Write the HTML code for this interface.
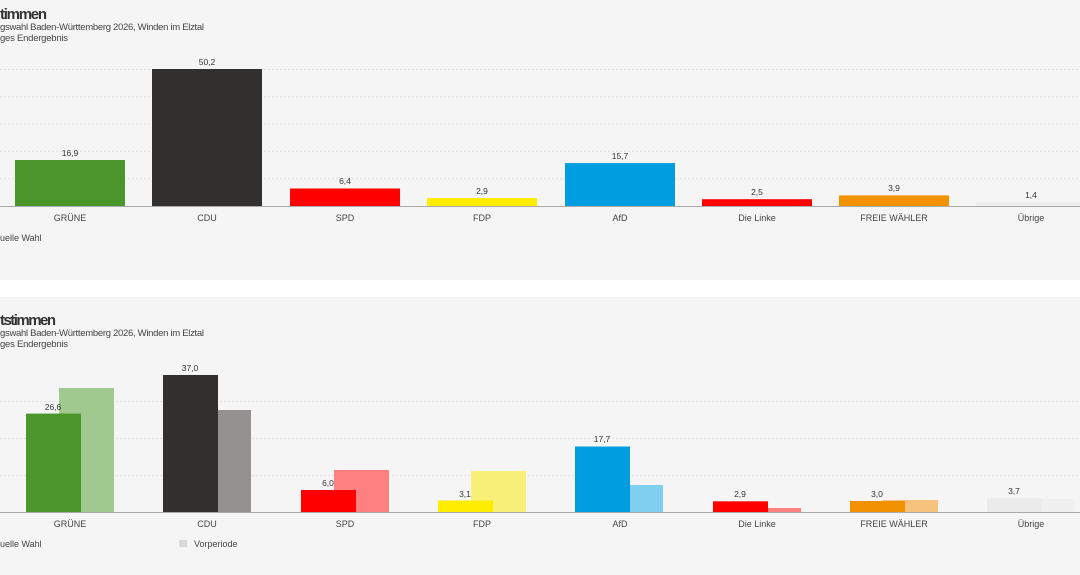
<!DOCTYPE html>
<html><head><meta charset="utf-8"><style>
html,body{margin:0;padding:0;background:#fff;}
svg{display:block;font-family:"Liberation Sans",sans-serif;}
</style></head><body>
<svg width="1080" height="575" viewBox="0 0 1080 575">
<rect x="0" y="0" width="1080" height="280" fill="#f5f5f5"/>
<rect x="0" y="297" width="1080" height="278" fill="#f5f5f5"/>
<!-- chart 1 header -->
<text x="0" y="19" font-size="15" font-weight="bold" fill="#333" textLength="47">timmen</text>
<text x="0" y="30" font-size="9.5" fill="#444" textLength="204">gswahl Baden-Württemberg 2026, Winden im Elztal</text>
<text x="0" y="41" font-size="9.5" fill="#444" textLength="68">ges Endergebnis</text>
<g stroke="#e2e2e2" stroke-dasharray="2,2" stroke-width="1">
<line x1="0" x2="1080" y1="69.5" y2="69.5"/><line x1="0" x2="1080" y1="96.8" y2="96.8"/>
<line x1="0" x2="1080" y1="124" y2="124"/><line x1="0" x2="1080" y1="151.4" y2="151.4"/>
<line x1="0" x2="1080" y1="178.7" y2="178.7"/>
</g>
<g>
<rect x="15" y="160" width="110" height="46" fill="#4a962b"/>
<rect x="152" y="69" width="110" height="137" fill="#32302e"/>
<rect x="290" y="188.5" width="110" height="17.5" fill="#ff0000"/>
<rect x="427" y="198.1" width="110" height="7.9" fill="#ffed00"/>
<rect x="565" y="163.1" width="110" height="42.9" fill="#009ee0"/>
<rect x="702" y="199.2" width="110" height="6.8" fill="#ff0000"/>
<rect x="839" y="195.4" width="110" height="10.6" fill="#f39200"/>
<rect x="976" y="202.2" width="110" height="3.8" fill="#ebebeb"/>
</g>
<line x1="0" x2="1080" y1="206.5" y2="206.5" stroke="#aaa" stroke-width="1"/>
<g font-size="8.5" fill="#333" text-anchor="middle">
<text x="70" y="156">16,9</text><text x="207" y="65">50,2</text><text x="345" y="184">6,4</text>
<text x="482" y="194">2,9</text><text x="620" y="159">15,7</text><text x="757" y="195">2,5</text>
<text x="894" y="191">3,9</text><text x="1031" y="198">1,4</text>
</g>
<g font-size="9" fill="#444" text-anchor="middle">
<text x="70" y="221">GRÜNE</text><text x="207" y="221">CDU</text><text x="345" y="221">SPD</text>
<text x="482" y="221">FDP</text><text x="620" y="221">AfD</text><text x="757" y="221">Die Linke</text>
<text x="894" y="221">FREIE WÄHLER</text><text x="1031" y="221">Übrige</text>
</g>
<text x="0" y="241" font-size="9" fill="#444">uelle Wahl</text>

<!-- chart 2 header -->
<text x="0" y="325" font-size="15" font-weight="bold" fill="#333" textLength="56">tstimmen</text>
<text x="0" y="336" font-size="9.5" fill="#444" textLength="204">gswahl Baden-Württemberg 2026, Winden im Elztal</text>
<text x="0" y="347" font-size="9.5" fill="#444" textLength="68">ges Endergebnis</text>
<g stroke="#e2e2e2" stroke-dasharray="2,2" stroke-width="1">
<line x1="0" x2="1080" y1="401.5" y2="401.5"/><line x1="0" x2="1080" y1="438.5" y2="438.5"/>
<line x1="0" x2="1080" y1="475.5" y2="475.5"/>
</g>
<g>
<rect x="59" y="388" width="55" height="124" fill="#9fc98f"/>
<rect x="26" y="413.6" width="55" height="98.4" fill="#4a962b"/>
<rect x="196" y="410" width="55" height="102" fill="#939291"/>
<rect x="163" y="375" width="55" height="137" fill="#32302e"/>
<rect x="334" y="470" width="55" height="42" fill="#ff8080"/>
<rect x="301" y="490" width="55" height="22" fill="#ff0000"/>
<rect x="471" y="471" width="55" height="41" fill="#f9f07a"/>
<rect x="438" y="500.5" width="55" height="11.5" fill="#ffed00"/>
<rect x="608" y="485" width="55" height="27" fill="#80cef0"/>
<rect x="575" y="446.5" width="55" height="65.5" fill="#009ee0"/>
<rect x="746" y="508" width="55" height="4" fill="#ff8080"/>
<rect x="713" y="501.3" width="55" height="10.7" fill="#ff0000"/>
<rect x="883" y="500" width="55" height="12" fill="#f6c37f"/>
<rect x="850" y="501" width="55" height="11" fill="#f39200"/>
<rect x="1020" y="499" width="55" height="13" fill="#f0f0f0"/>
<rect x="987" y="498.3" width="55" height="13.7" fill="#ebebeb"/>
</g>
<line x1="0" x2="1080" y1="512.5" y2="512.5" stroke="#aaa" stroke-width="1"/>
<g font-size="8.5" fill="#333" text-anchor="middle">
<text x="53" y="410">26,6</text><text x="190" y="371">37,0</text><text x="328" y="486">6,0</text>
<text x="465" y="497">3,1</text><text x="602" y="442">17,7</text><text x="740" y="497">2,9</text>
<text x="877" y="497">3,0</text><text x="1014" y="494">3,7</text>
</g>
<g font-size="9" fill="#444" text-anchor="middle">
<text x="70" y="527">GRÜNE</text><text x="207" y="527">CDU</text><text x="345" y="527">SPD</text>
<text x="482" y="527">FDP</text><text x="620" y="527">AfD</text><text x="757" y="527">Die Linke</text>
<text x="894" y="527">FREIE WÄHLER</text><text x="1031" y="527">Übrige</text>
</g>
<text x="0" y="547" font-size="9" fill="#444">uelle Wahl</text>
<rect x="179" y="540" width="8" height="7" fill="#d8d8d8"/>
<text x="194" y="547" font-size="9" fill="#444">Vorperiode</text>
</svg>
</body></html>
